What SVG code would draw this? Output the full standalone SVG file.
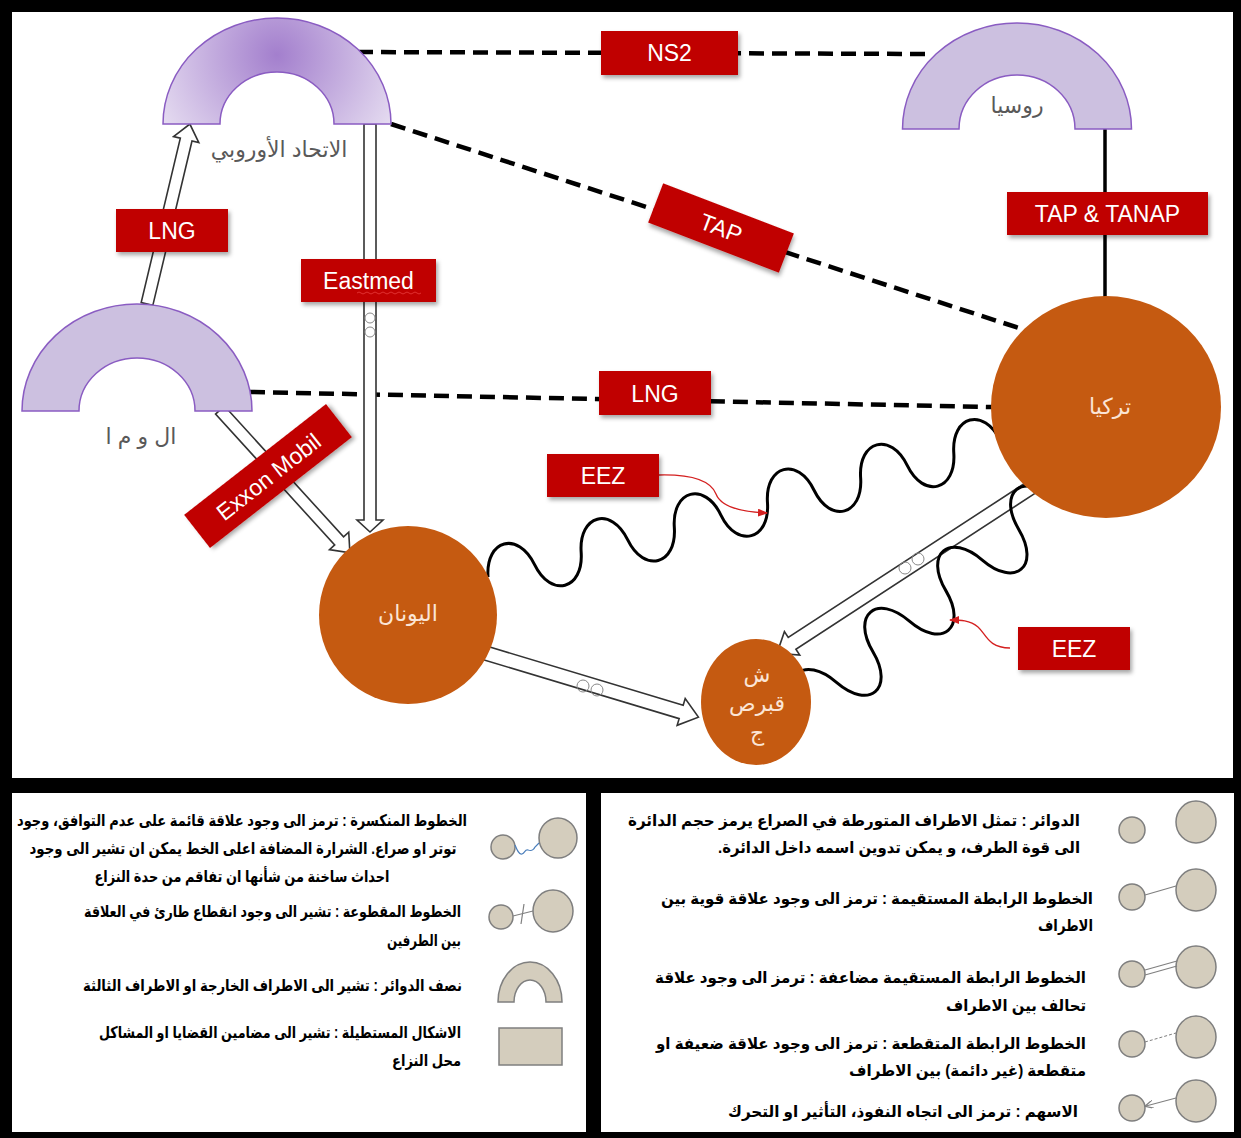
<svg xmlns="http://www.w3.org/2000/svg" width="1241" height="1138" viewBox="0 0 1241 1138">
<defs>
<style>
.arch{stroke:#8a5cc2;stroke-width:1.5}
.archf{fill:#ccc0e0}
.dash{fill:none;stroke:#000;stroke-width:4.5;stroke-dasharray:15 8}
.barrow{fill:#fff;stroke:#333;stroke-width:1.6;stroke-linejoin:miter}
.wave{fill:none;stroke:#000;stroke-width:3}
.red{fill:none;stroke:#d42020;stroke-width:1.3}
.box{fill:#c00000;filter:url(#sh)}
.bt{font-family:'Liberation Sans','DejaVu Sans',sans-serif;font-size:23px;fill:#fff;text-anchor:middle}
.circ{fill:#c55a11}
.ct{font-family:'Liberation Sans','DejaVu Sans',sans-serif;font-size:22px;fill:#fbe5d6;text-anchor:middle}
.gt{font-family:'Liberation Sans','DejaVu Sans',sans-serif;font-size:22px;fill:#595959;text-anchor:middle}
.lt{font-family:'Liberation Sans','DejaVu Sans',sans-serif;font-size:16px;font-weight:bold;fill:#000;direction:rtl}
.lc{fill:#d4cdbd;stroke:#7f7f7f;stroke-width:1.5}
.spark{fill:none;stroke:#888;stroke-width:1}
</style>
<radialGradient id="euG" gradientUnits="userSpaceOnUse" cx="277" cy="55" r="135">
<stop offset="0" stop-color="#a37fcd"/>
<stop offset="1" stop-color="#e6ddf1"/>
</radialGradient>
<filter id="sh" x="-20%" y="-20%" width="140%" height="150%">
<feDropShadow dx="2" dy="3" stdDeviation="2" flood-color="#000" flood-opacity="0.35"/>
</filter>
<marker id="rh" markerWidth="10" markerHeight="8" refX="9" refY="4" orient="auto" markerUnits="userSpaceOnUse">
<path d="M0,0 L10,4 L0,8 Z" fill="#d42020"/>
</marker>
<marker id="gh" markerWidth="8" markerHeight="8" refX="7" refY="4" orient="auto" markerUnits="userSpaceOnUse">
<path d="M0,0 L8,4 L0,8" fill="none" stroke="#7f7f7f" stroke-width="1.2"/>
</marker>
</defs>

<rect x="0" y="0" width="1241" height="1138" fill="#000"/>
<rect x="12" y="12" width="1221" height="766" fill="#fff"/>
<rect x="12" y="793" width="574" height="339" fill="#fff"/>
<rect x="601" y="793" width="633" height="339" fill="#fff"/>

<g id="connectors">
<line class="dash" x1="358" y1="52" x2="930" y2="54"/>
<line class="dash" x1="391" y1="124" x2="1025" y2="330"/>
<line class="dash" x1="250" y1="392" x2="992" y2="407"/>
<line x1="1105" y1="129" x2="1105" y2="298" stroke="#000" stroke-width="3.5"/>
<path class="barrow" transform="translate(147,304) rotate(-76.6)" d="M0,-6 H169 V-13 L185,0 L169,13 V6 H0 Z"/>
<path class="barrow" transform="translate(370,124) rotate(90)" d="M0,-6 H396 V-13 L408,0 L396,13 V6 H0 Z"/>
<path class="barrow" transform="translate(220,410) rotate(47.7)" d="M0,-6 H177 V-13 L193,0 L177,13 V6 H0 Z"/>
<path class="barrow" transform="translate(482,652) rotate(16.75)" d="M0,-7 H208 V-14 L226,0 L208,14 V7 H0 Z"/>
<path class="barrow" transform="translate(1035,485) rotate(146.9)" d="M0,-7 H290 V-14 L308,0 L290,14 V7 H0 Z"/>
<path class="wave" transform="translate(488,577) rotate(-14.9)" d="M0,0 c7.2,-37 41,-37 48.2,0 c7.2,37 41,37 48.2,0 c7.2,-37 41,-37 48.2,0 c7.2,37 41,37 48.2,0 c7.2,-37 41,-37 48.2,0 c7.2,37 41,37 48.2,0 c7.2,-37 41,-37 48.2,0 c7.2,37 41,37 48.2,0 c7.2,-37 41,-37 48.2,0 c7.2,37 41,37 48.2,0 c7.2,-37 41,-37 48.2,0"/>
<path class="wave" transform="translate(800,713) rotate(-40)" d="M0,0 c7,-42.6 40.6,-42.6 47.6,0 c7,42.6 40.6,42.6 47.6,0 c7,-42.6 40.6,-42.6 47.6,0 c7,42.6 40.6,42.6 47.6,0 c7,-42.6 40.6,-42.6 47.6,0 c7,42.6 40.6,42.6 47.6,0 c7,-42.6 40.6,-42.6 47.6,0"/>
<path class="red" marker-end="url(#rh)" d="M659,475 C700,474 712,484 716,494 C721,507 742,512 767,513"/>
<path class="red" marker-end="url(#rh)" d="M1010,648 C988,648 986,634 978,627 C970,620 960,620 950,620"/>
<g class="spark">
<circle cx="370" cy="318" r="5"/><circle cx="370" cy="332" r="5"/>
<circle cx="583" cy="686" r="6"/><circle cx="597" cy="690" r="6"/>
<circle cx="905" cy="568" r="6"/><circle cx="918" cy="559" r="6"/>
</g>
</g>

<g id="eu">
<path fill="url(#euG)" class="arch" d="M163,124 A114,106 0 0 1 391,124 L334,124 A57,52 0 0 0 220,124 Z"/>
<text class="gt" x="279" y="157">الاتحاد الأوروبي</text>
</g>
<g id="russia">
<path class="arch archf" d="M902.5,129 A114.5,106 0 0 1 1131.5,129 L1075,129 A58,54 0 0 0 959,129 Z"/>
<text class="gt" x="1017" y="113">روسيا</text>
</g>
<g id="egypt">
<path class="arch archf" d="M22,411 A115,107 0 0 1 252,411 L195,411 A58,53 0 0 0 79,411 Z"/>
<text class="gt" x="141" y="444" font-size="20">ال و م ا</text>
</g>
<g id="greece">
<circle class="circ" cx="408" cy="615" r="89"/>
<text class="ct" x="408" y="621">اليونان</text>
</g>
<g id="turkey">
<ellipse class="circ" cx="1106" cy="407" rx="115" ry="111"/>
<text class="ct" x="1110" y="414">تركيا</text>
</g>
<g id="cyprus">
<ellipse class="circ" cx="756" cy="702" rx="55" ry="63"/>
<text class="ct" x="757" y="682" font-size="19" fill="#fff">ش</text>
<text class="ct" x="757" y="711" font-size="19" fill="#fff">قبرص</text>
<text class="ct" x="757" y="740" font-size="19" fill="#fff">ج</text>
</g>

<g id="ns2"><rect class="box" x="601" y="31" width="137" height="44"/><text class="bt" x="669.5" y="61">NS2</text></g>
<g id="lng1"><rect class="box" x="116" y="209" width="112" height="43"/><text class="bt" x="172" y="239">LNG</text></g>
<g id="eastmed"><rect class="box" x="301" y="259" width="135" height="43"/><text class="bt" x="368.5" y="289">Eastmed</text>
<path d="M357,293 q2,-2 4,0 t4,0 t4,0 t4,0 t4,0 t4,0 t4,0 t4,0 t4,0 t4,0 t4,0 t4,0 t4,0 t4,0 t4,0 t4,0" fill="none" stroke="#e03030" stroke-width="1"/></g>
<g id="tap" transform="translate(721,228) rotate(21)"><rect class="box" x="-70" y="-21" width="140" height="42"/><text class="bt" x="0" y="8">TAP</text></g>
<g id="taptanap"><rect class="box" x="1007" y="192" width="201" height="43"/><text class="bt" x="1107.5" y="222">TAP &amp; TANAP</text></g>
<g id="lng2"><rect class="box" x="599" y="371" width="112" height="44"/><text class="bt" x="655" y="402">LNG</text></g>
<g id="eez1"><rect class="box" x="547" y="454" width="112" height="43"/><text class="bt" x="603" y="484">EEZ</text></g>
<g id="eez2"><rect class="box" x="1018" y="627" width="112" height="43"/><text class="bt" x="1074" y="657">EEZ</text></g>
<g id="exxon" transform="translate(268,476) rotate(-38)"><rect class="box" x="-90" y="-21" width="180" height="42"/><text class="bt" x="0" y="9" font-size="24">Exxon Mobil</text></g>

<g id="legend-left">
<circle class="lc" cx="503" cy="847" r="12"/>
<ellipse class="lc" cx="558" cy="838" rx="19" ry="20"/>
<path d="M515,845 c2,5 4,10 7,9 c3,-1 3,-5 6,-4 c3,1 5,1 7,-3 l4,-4" fill="none" stroke="#4a7ebb" stroke-width="1.2"/>
<circle class="lc" cx="501" cy="917" r="12"/>
<ellipse class="lc" cx="553" cy="911" rx="20" ry="21"/>
<line x1="513" y1="916" x2="533" y2="911" stroke="#7f7f7f" stroke-width="1.2"/>
<line x1="524" y1="904" x2="521" y2="924" stroke="#7f7f7f" stroke-width="1.2"/>
<path class="lc" d="M498,1002 A32,40 0 0 1 562,1002 L546,1002 A16,22 0 0 0 514,1002 Z"/>
<rect class="lc" x="499" y="1028" width="63" height="37"/>
<text class="lt" x="242" y="826" text-anchor="middle" textLength="450" lengthAdjust="spacingAndGlyphs">الخطوط المنكسرة : ترمز الى وجود علاقة قائمة على عدم التوافق، وجود</text>
<text class="lt" x="243" y="854" text-anchor="middle" textLength="427" lengthAdjust="spacingAndGlyphs">توتر او صراع. الشرارة المضافة اعلى الخط يمكن ان تشير الى وجود</text>
<text class="lt" x="242" y="882" text-anchor="middle" textLength="295" lengthAdjust="spacingAndGlyphs">احداث ساخنة من شأنها ان تفاقم من حدة النزاع</text>
<text class="lt" x="461" y="917" text-anchor="start" textLength="377" lengthAdjust="spacingAndGlyphs">الخطوط المقطوعة : تشير الى وجود انقطاع طارئ في العلاقة</text>
<text class="lt" x="461" y="946" text-anchor="start" textLength="74" lengthAdjust="spacingAndGlyphs">بين الطرفين</text>
<text class="lt" x="462" y="991" text-anchor="start" textLength="379" lengthAdjust="spacingAndGlyphs">نصف الدوائر : تشير الى الاطراف الخارجة او الاطراف الثالثة</text>
<text class="lt" x="461" y="1038" text-anchor="start" textLength="362" lengthAdjust="spacingAndGlyphs">الاشكال المستطيلة : تشير الى مضامين القضايا او المشاكل</text>
<text class="lt" x="461" y="1066" text-anchor="start" textLength="69" lengthAdjust="spacingAndGlyphs">محل النزاع</text>
</g>

<g id="legend-right">
<circle class="lc" cx="1132" cy="830" r="13"/>
<ellipse class="lc" cx="1196" cy="822" rx="20" ry="21"/>
<circle class="lc" cx="1132" cy="897" r="13"/>
<ellipse class="lc" cx="1196" cy="890" rx="20" ry="21"/>
<line x1="1145" y1="895" x2="1176" y2="886" stroke="#7f7f7f" stroke-width="1.2"/>
<circle class="lc" cx="1132" cy="974" r="13"/>
<ellipse class="lc" cx="1196" cy="967" rx="20" ry="21"/>
<line x1="1145" y1="970" x2="1177" y2="961" stroke="#7f7f7f" stroke-width="1.2"/>
<line x1="1145" y1="975" x2="1177" y2="966" stroke="#7f7f7f" stroke-width="1.2"/>
<circle class="lc" cx="1132" cy="1044" r="13"/>
<ellipse class="lc" cx="1196" cy="1037" rx="20" ry="21"/>
<line x1="1145" y1="1042" x2="1176" y2="1033" stroke="#7f7f7f" stroke-width="1" stroke-dasharray="3 2"/>
<circle class="lc" cx="1132" cy="1108" r="13"/>
<ellipse class="lc" cx="1196" cy="1101" rx="20" ry="21"/>
<line x1="1176" y1="1098" x2="1146" y2="1106" stroke="#7f7f7f" stroke-width="1.2" marker-end="url(#gh)"/>
<text class="lt" x="1080" y="826" text-anchor="start" textLength="452" lengthAdjust="spacingAndGlyphs">الدوائر : تمثل الاطراف المتورطة في الصراع يرمز حجم الدائرة</text>
<text class="lt" x="1080" y="853" text-anchor="start" textLength="362" lengthAdjust="spacingAndGlyphs">الى قوة الطرف، و يمكن تدوين اسمه داخل الدائرة.</text>
<text class="lt" x="1093" y="904" text-anchor="start" textLength="432" lengthAdjust="spacingAndGlyphs">الخطوط الرابطة المستقيمة : ترمز الى وجود علاقة قوية بين</text>
<text class="lt" x="1093" y="931" text-anchor="start" textLength="55" lengthAdjust="spacingAndGlyphs">الاطراف</text>
<text class="lt" x="1086" y="983" text-anchor="start" textLength="431" lengthAdjust="spacingAndGlyphs">الخطوط الرابطة المستقيمة مضاعفة : ترمز الى وجود علاقة</text>
<text class="lt" x="1086" y="1011" text-anchor="start" textLength="140" lengthAdjust="spacingAndGlyphs">تحالف بين الاطراف</text>
<text class="lt" x="1086" y="1049" text-anchor="start" textLength="430" lengthAdjust="spacingAndGlyphs">الخطوط الرابطة المتقطعة : ترمز الى وجود علاقة ضعيفة او</text>
<text class="lt" x="1086" y="1076" text-anchor="start" textLength="237" lengthAdjust="spacingAndGlyphs">متقطعة (غير دائمة) بين الاطراف</text>
<text class="lt" x="1078" y="1117" text-anchor="start" textLength="350" lengthAdjust="spacingAndGlyphs">الاسهم : ترمز الى اتجاه النفوذ، التأثير او التحرك</text>
</g>
</svg>
